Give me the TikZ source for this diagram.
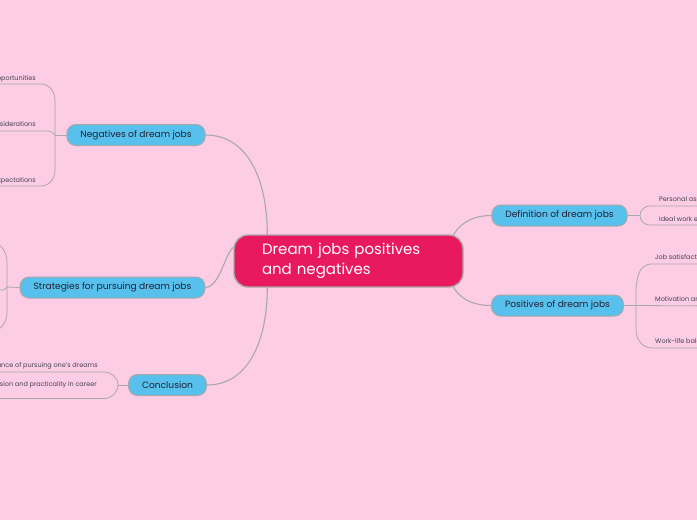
\documentclass[tikz,border=0pt]{standalone}
\usepackage{fontspec}
\setmainfont{Poppins}
\definecolor{bgpink}{HTML}{FDCCE5}
\definecolor{topicblue}{HTML}{58C0EC}
\definecolor{rootred}{HTML}{E8195E}
\definecolor{linegray}{HTML}{A9A9A9}
\definecolor{textdark}{HTML}{222233}
\begin{document}
\begin{tikzpicture}[x=1pt,y=-1pt,
  link/.style={draw=linegray,line width=1.1pt},
  thin link/.style={draw=linegray,line width=0.8pt},
  branch/.style={draw=linegray,line width=1pt,fill=topicblue,rounded corners=9pt,
    minimum height=21pt,inner xsep=13.5pt,text=textdark,font=\fontsize{9.1}{10}\selectfont},
  item/.style={inner sep=0pt,text=textdark!85,font=\fontsize{6.5}{7}\selectfont}]
\useasboundingbox[fill=bgpink] (0,0) rectangle (697,520);

% central topic
\node[draw=linegray,line width=1.4pt,fill=rootred,rounded corners=14pt,
  minimum width=229pt,minimum height=52pt,text width=173pt,align=left,
  inner xsep=28pt,text=white,font=\fontsize{15}{20}\selectfont] (root) at (348.5,261)
  {\raisebox{-2pt}{Dream jobs positives}\\\raisebox{-2pt}{and negatives}};

% main branches
\node[branch] (neg) at (136,135) {Negatives of dream jobs};
\node[branch] (strat) at (112.5,287.5) {Strategies for pursuing dream jobs};
\node[branch] (concl) at (167.5,385) {Conclusion};
\node[branch] (def) at (559.5,215.5) {Definition of dream jobs};
\node[branch] (pos) at (557.5,305.5) {Positives of dream jobs};

\draw[link] (neg.east) .. controls +(42,0) and +(0,-55) .. ([xshift=34pt]root.north west);
\draw[link] (strat.east) .. controls +(14,0) and +(-8,6) .. ([yshift=-13pt]root.north west);
\draw[link] (concl.east) .. controls +(42,0) and +(0,52) .. ([xshift=34pt]root.south west);
\draw[link] (def.west) .. controls +(-22,0) and +(5,-10) .. ([xshift=-11pt,yshift=-2pt]root.north east);
\draw[link] (pos.west) .. controls +(-22,0) and +(5,10) .. ([xshift=-11pt,yshift=2pt]root.south east);

% negatives
\coordinate (negjoin) at (55,135);
\draw[thin link] (negjoin) -- (neg.west);
\draw[thin link] (-20,84) -- (41,84) to[out=0,in=90] (55,100) -- (negjoin) -- (55,170)
  to[out=-90,in=0] (41,186) -- (-20,186);
\draw[thin link] (-20,131) -- (44,131) .. controls (51,131) .. (negjoin);
\node[item,anchor=base east] (neg1) at (36,80) {Limited job opportunities};
\node[item,anchor=base east] (neg2) at (36,126) {Financial considerations};
\node[item,anchor=base east] (neg3) at (36,182) {Unrealistic expectations};

% strategies
\coordinate (stratjoin) at (7,287);
\draw[thin link] (stratjoin) -- (strat.west);
\draw[thin link] (-20,243) -- (-8,243) to[out=0,in=90] (7,262) -- (stratjoin) -- (7,312)
  to[out=-90,in=0] (-8,331) -- (-20,331);
\draw[thin link] (-20,290) -- (0,290) .. controls (4,290) .. (stratjoin);

% conclusion
\coordinate (concljoin) at (118,385);
\draw[thin link] (concljoin) -- (concl.west);
\draw[thin link] (-20,372) -- (104,372) to[out=0,in=90] (concljoin)
  to[out=-90,in=0] (104,398.5) -- (-20,398.5);
\node[item,anchor=base east] (concl1) at (98,367) {Importance of pursuing one's dreams};
\node[item,anchor=base east] (concl2) at (97,386) {Balance between passion and practicality in career};

% definition
\coordinate (defjoin) at (640,215.5);
\draw[thin link] (def.east) -- (defjoin);
\draw[thin link] (720,206) -- (650,206) to[out=180,in=90] (defjoin)
  to[out=-90,in=180] (650,225) -- (720,225);
\node[item,anchor=base west] (def1) at (659,201) {Personal aspirations};
\node[item,anchor=base west] (def2) at (659,221) {Ideal work environment};

% positives
\coordinate (posjoin) at (636,305.5);
\draw[thin link] (pos.east) -- (posjoin);
\draw[thin link] (720,264) -- (652,264) to[out=180,in=90] (posjoin) -- (636,330)
  to[out=-90,in=180] (652,348) -- (720,348);
\draw[thin link] (720,306) -- (posjoin);
\node[item,anchor=base west] (pos1) at (655,259) {Job satisfaction};
\node[item,anchor=base west] (pos2) at (655,301) {Motivation and passion};
\node[item,anchor=base west] (pos3) at (655,343) {Work-life balance};
\end{tikzpicture}
\end{document}
